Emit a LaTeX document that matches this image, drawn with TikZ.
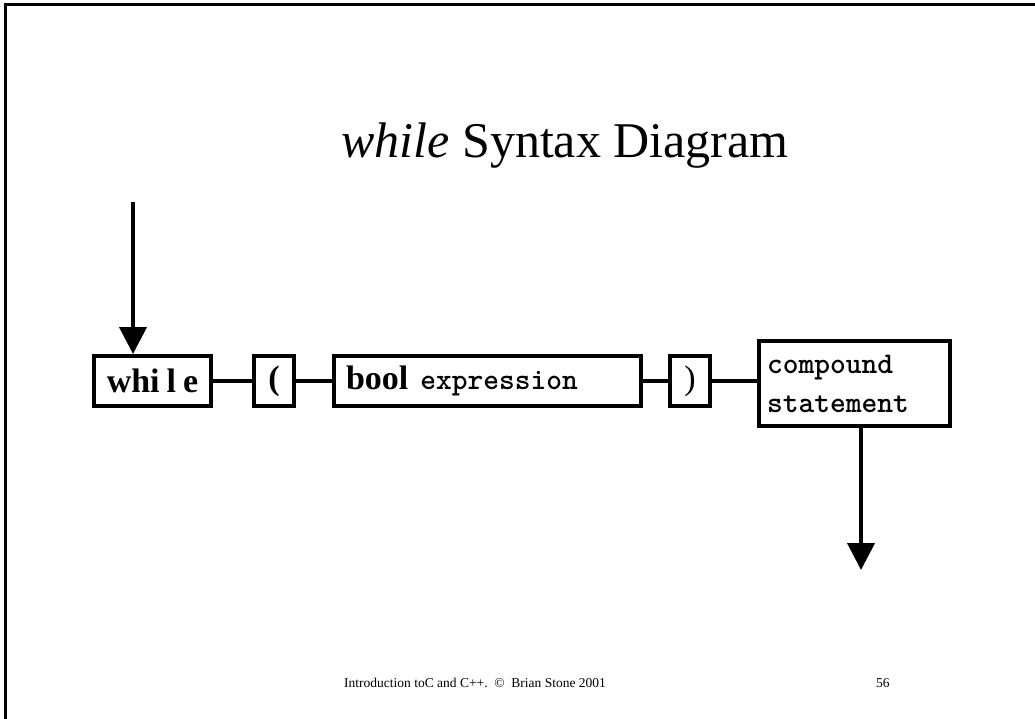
\documentclass[tikz,border=0pt]{standalone}
\usepackage{fontspec}
\setmainfont{Liberation Serif}
\usetikzlibrary{arrows.meta,positioning}
\begin{document}
\begin{tikzpicture}[x=1pt,y=-1pt,
    synbox/.style={draw, line width=4pt, inner sep=0pt},
    link/.style={line width=4pt},
    flow/.style={line width=4pt, -{Triangle[width=27pt,length=27pt]}}]
  \useasboundingbox (0,0) rectangle (1035,719);

  % Slide frame
  \draw[line width=3pt] (5.5,719) -- (5.5,4.5) -- (1035,4.5);

  % Title
  \node[anchor=base] (title) at (565,158)
    {\fontsize{50}{58}\selectfont\textit{while} Syntax Diagram};

  % Syntax boxes
  \node[synbox, minimum width=117pt, minimum height=50pt] (wbox) at (152.5,381)
    {\fontsize{34}{40}\selectfont\bfseries whi\kern7pt l\kern7pt e};
  \node[synbox, minimum width=40pt, minimum height=50pt] (lpar) at (274,381)
    {\fontsize{34}{40}\selectfont\bfseries (};
  \node[synbox, minimum height=50pt, text width=283pt, inner xsep=12pt, align=left] (bexpr) at (487.5,381)
    {\fontsize{34}{40}\selectfont\bfseries bool\hspace{12pt}{\ttfamily\fontsize{30}{34}\selectfont expression}};
  \node[synbox, minimum width=40pt, minimum height=50pt] (rpar) at (690,381)
    {\fontsize{34}{40}\selectfont )};
  \node[synbox, minimum height=85pt, text width=175pt, inner xsep=8pt, align=left,
        font=\ttfamily\bfseries\fontsize{30}{39}\selectfont] (cstmt) at (854.5,383.5)
    {compound\\statement};

  % Connectors
  \draw[link] (wbox) -- (lpar);
  \draw[link] (lpar) -- (bexpr);
  \draw[link] (bexpr) -- (rpar);
  \draw[link] (rpar.east) -- (rpar.east -| cstmt.west);

  % Entry and exit arrows
  \coordinate (entry) at (133,202);
  \coordinate (exit) at (861,570);
  \draw[flow] (entry) -- (entry |- wbox.north);
  \draw[flow] (exit |- cstmt.south) -- (exit);

  % Footer
  \node[anchor=base west, inner sep=0pt] (foot) at (344,687)
    {\fontsize{13.5}{16}\selectfont Introduction toC and C++.\ \ ©\ \ Brian Stone 2001};
  \node[anchor=base west, inner sep=0pt] (pnum) at (876,687)
    {\fontsize{13.5}{16}\selectfont 56};
\end{tikzpicture}
\end{document}
